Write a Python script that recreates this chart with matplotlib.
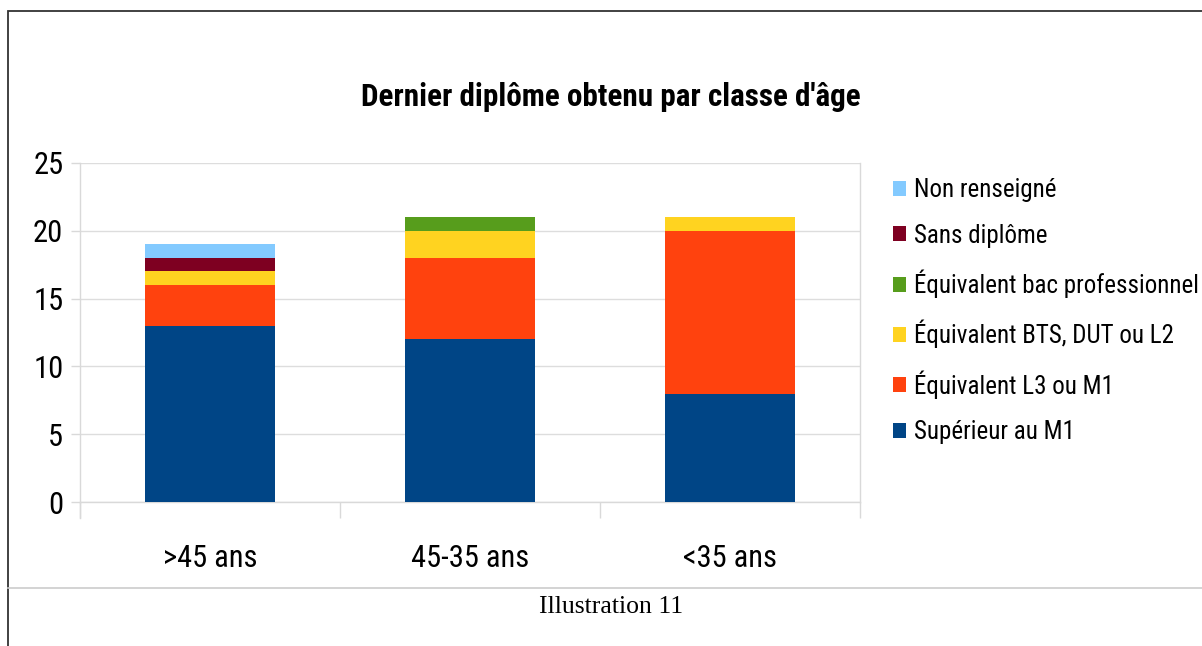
import matplotlib
matplotlib.use("Agg")
import matplotlib.pyplot as plt
from matplotlib.patches import Rectangle
from matplotlib.lines import Line2D
import numpy as np

categories = [">45 ans", "45-35 ans", "<35 ans"]
series_names = ["Supérieur au M1", "Équivalent L3 ou M1", "Équivalent BTS, DUT ou L2",
                "Équivalent bac professionnel", "Sans diplôme", "Non renseigné"]
superieur_m1 = [13, 12, 8]
l3_m1 = [3, 6, 12]
bts_dut_l2 = [1, 2, 1]
bac_pro = [0, 1, 0]
sans_diplome = [1, 0, 0]
non_renseigne = [1, 0, 0]
series_values = [superieur_m1, l3_m1, bts_dut_l2, bac_pro, sans_diplome, non_renseigne]
colors = ["#004586", "#ff420e", "#ffd320", "#579d1c", "#7e0021", "#83caff"]
yticks = [0, 5, 10, 15, 20, 25]

W, H = 1202, 646
fig = plt.figure(figsize=(W / 100, H / 100), dpi=100)
fig.patch.set_facecolor("white")

FONT = ["Roboto Condensed", "Liberation Sans", "DejaVu Sans"]

def fx(px):
    return px / W

def fy(py):
    return 1 - py / H

ax = fig.add_axes([fx(80), fy(502), fx(860) - fx(80), fy(163) - fy(502)])
ax.set_facecolor("white")

x = np.arange(len(categories))
bottom = np.zeros(len(categories))
handles = []
for name, vals, c in zip(series_names, series_values, colors):
    b = ax.bar(x, vals, width=0.5, bottom=bottom, color=c, linewidth=0, label=name, zorder=3)
    handles.append(b)
    bottom += np.array(vals)

ax.set_xlim(-0.5, 2.5)
ax.set_ylim(0, 25)
ax.set_yticks(yticks)
ax.set_yticklabels([str(v) for v in yticks], fontfamily=FONT, fontsize=22, color="#000000")
ax.tick_params(axis="y", length=6.5, width=1, color="#d9d9d9", pad=5.5)

ax.set_xticks([-0.5, 0.5, 1.5, 2.5])
ax.set_xticklabels([])
ax.tick_params(axis="x", which="major", length=11.5, width=1, color="#d9d9d9")
ax.set_xticks(x, minor=True)
ax.set_xticklabels(categories, minor=True, fontfamily=FONT, fontsize=22, color="#000000")
ax.tick_params(axis="x", which="minor", length=0, pad=30)

ax.yaxis.grid(True, color="#dddddd", linewidth=1, zorder=0)
ax.set_axisbelow(True)
for s in ["left", "right", "bottom"]:
    ax.spines[s].set_color("#d9d9d9")
    ax.spines[s].set_linewidth(1)
ax.spines["top"].set_visible(False)

fig.add_artist(Line2D([fx(80), fx(80)], [fy(502), fy(518)], color="#d9d9d9", linewidth=1))

fig.text(fx(611), fy(97), "Dernier diplôme obtenu par classe d'âge", ha="center", va="center",
         fontfamily=FONT, fontsize=22.4, fontweight="bold", color="#000000")

leg = ax.legend(handles[::-1], series_names[::-1], loc="upper left",
                bbox_to_anchor=(fx(893), fy(178)), bbox_transform=fig.transFigure,
                frameon=False, prop={"family": FONT, "size": 18},
                handlelength=0.5, handleheight=0.55, handletextpad=0.35,
                labelspacing=0.87, borderpad=0, borderaxespad=0)

fig.add_artist(Line2D([fx(8), 1], [fy(588), fy(588)], color="#cccccc", linewidth=1.2))
fig.text(fx(611), fy(607), "Illustration 11", ha="center", va="center",
         fontfamily=["Liberation Serif", "DejaVu Serif"], fontsize=18.5, color="#000000")

fig.add_artist(Rectangle((fx(7.5), -0.05), 1.2, fy(11.5) + 0.05, transform=fig.transFigure,
                         fill=False, edgecolor="#333333", linewidth=1.3))

fig.savefig("out.png", dpi=100, facecolor="white")
